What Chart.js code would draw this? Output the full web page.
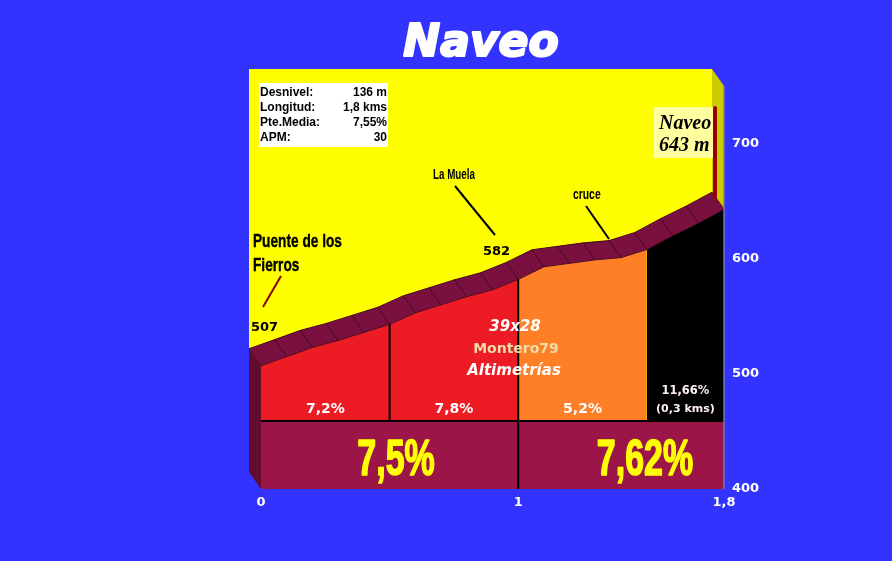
<!DOCTYPE html>
<html>
<head>
<meta charset="utf-8">
<script src="https://cdn.jsdelivr.net/npm/chart.js@4/dist/chart.umd.min.js"></script>
<style>
  body { margin: 0; background: #3333FF; }
  canvas { display: block; }
</style>
</head>
<body>
<canvas id="perfil" width="892" height="561"></canvas>
<script>
/* -------------------- DATOS -------------------- */
const kms = [0, 0.1, 0.2, 0.3, 0.4, 0.5, 0.6, 0.7, 0.8, 0.9, 1.0, 1.1, 1.2, 1.3, 1.4, 1.5, 1.6, 1.7, 1.8];
const altitudes = [507, 515, 523, 529, 536, 543, 553, 560, 567, 573, 582, 593, 596, 599, 601, 608, 620, 631, 643];

// tramos: indice inicio, indice fin, color, texto
const tramosIni = [0, 5, 10, 15];
const tramosFin = [5, 10, 15, 18];
const tramosColor = ["#ED1C24", "#ED1C24", "#FF7F27", "#000000"];
const tramosTexto = ["7,2%", "7,8%", "5,2%", "11,66%"];

// bloques de la base
const bloquesKm = [0.525, 1.493];
const bloquesTexto = ["7,5%", "7,62%"];

const yTicks = [400, 500, 600, 700];
const xTicks = [0, 1, 1.8];
const altBase = 459;

const infoEtiquetas = ["Desnivel:", "Longitud:", "Pte.Media:", "APM:"];
const infoValores = ["136 m", "1,8 kms", "7,55%", "30"];

/* -------------------- DIBUJO -------------------- */
const DX = -12, DY = -17;

function txt(ctx, s, x, y, font, color, align, sx, grosor) {
    ctx.save();
    ctx.font = font;
    ctx.fillStyle = color;
    ctx.textAlign = align || "left";
    ctx.textBaseline = "alphabetic";
    ctx.translate(x, y);
    ctx.scale(sx || 1, 1);
    ctx.fillText(s, 0, 0);
    if (grosor) {
        ctx.strokeStyle = color;
        ctx.lineWidth = grosor;
        ctx.lineJoin = "round";
        ctx.strokeText(s, 0, 0);
    }
    ctx.restore();
}

function linea(ctx, x1, y1, x2, y2, color, w) {
    ctx.save();
    ctx.strokeStyle = color;
    ctx.lineWidth = w;
    ctx.beginPath();
    ctx.moveTo(x1, y1);
    ctx.lineTo(x2, y2);
    ctx.stroke();
    ctx.restore();
}

function poligono(ctx, pts, fill, stroke) {
    ctx.beginPath();
    pts.forEach((p, i) => i ? ctx.lineTo(p[0], p[1]) : ctx.moveTo(p[0], p[1]));
    ctx.closePath();
    ctx.fillStyle = fill;
    ctx.fill();
    if (stroke) { ctx.strokeStyle = stroke; ctx.lineWidth = 1; ctx.stroke(); }
}

const fondo3d = {
    id: "fondo3d",
    beforeDraw(chart) {
        const { ctx, chartArea: a } = chart;
        ctx.save();
        ctx.fillStyle = "#3333FF";
        ctx.fillRect(0, 0, chart.width, chart.height);
        // pared del fondo
        ctx.fillStyle = "#FFFF00";
        ctx.fillRect(a.left + DX, a.top + DY, a.right - a.left, a.bottom - a.top);
        // pared lateral derecha
        poligono(ctx, [[a.right + DX, a.top + DY], [a.right, a.top], [a.right, a.bottom], [a.right + DX, a.bottom + DY]], "#CCCC00");
        ctx.restore();
    },
    afterDatasetsDraw(chart) {
        const { ctx, chartArea: a, scales: { x, y } } = chart;
        const px = k => x.getPixelForValue(k);
        const py = v => y.getPixelForValue(v);
        ctx.save();

        // cara izquierda
        const x0 = px(0), y0 = py(altitudes[0]);
        poligono(ctx, [[x0 + DX, y0 + DY], [x0, y0], [x0, a.bottom], [x0 + DX, a.bottom + DY]], "#640C30");

        // banda superior del perfil
        for (let i = 0; i < kms.length - 1; i++) {
            const x1 = px(kms[i]), y1 = py(altitudes[i]);
            const x2 = px(kms[i + 1]), y2 = py(altitudes[i + 1]);
            poligono(ctx, [[x1, y1], [x2, y2], [x2 + DX, y2 + DY], [x1 + DX, y1 + DY]], "#7A1040", "#4A0826");
        }

        // separadores
        const yb = py(altBase);
        linea(ctx, px(0), yb, px(1.8), yb, "#000", 2);
        linea(ctx, px(0.5), py(altitudes[5]), px(0.5), yb, "#000", 2);
        linea(ctx, px(1), py(altitudes[10]), px(1), a.bottom, "#000", 2);
        linea(ctx, a.right, a.top, a.right, a.bottom, "#7878A8", 1.5);

        // textos de los tramos
        const fTramo = "bold 14px 'DejaVu Sans'";
        for (let i = 0; i < 3; i++) {
            const cx = (px(kms[tramosIni[i]]) + px(kms[tramosFin[i]])) / 2;
            txt(ctx, tramosTexto[i], cx, 413, fTramo, "#FFFFFF", "center");
        }
        const cxN = (px(kms[tramosIni[3]]) + px(kms[tramosFin[3]])) / 2;
        txt(ctx, tramosTexto[3], cxN, 394, "bold 11.5px 'DejaVu Sans'", "#FFF0F8", "center");
        txt(ctx, "(0,3 kms)", cxN, 412, "bold 11px 'DejaVu Sans'", "#FFF0F8", "center");

        // textos de la base
        bloquesTexto.forEach((t, i) => {
            txt(ctx, t, px(bloquesKm[i]), 475, "bold 50px 'Liberation Sans'", "#FFFF00", "center", 0.68, 1.6);
        });

        // marca de la cima
        ctx.lineCap = "round";
        linea(ctx, 715, 108, 715, 197, "#990000", 4);
        ctx.lineCap = "butt";
        ctx.fillStyle = "#FFFFA0";
        ctx.fillRect(654, 107, 59, 51);
        txt(ctx, "Naveo", 659, 129, "bold italic 20px 'Liberation Serif'", "#000");
        txt(ctx, "643 m", 659, 151, "bold italic 20px 'Liberation Serif'", "#000");

        // puntos de paso
        const fCond = "bold 19px 'Liberation Sans'";
        txt(ctx, "Puente de los", 253, 247, fCond, "#000", "left", 0.72, 0.4);
        txt(ctx, "Fierros", 253, 271, fCond, "#000", "left", 0.72, 0.4);
        linea(ctx, 281, 276, 263, 307, "#8B0000", 2);
        txt(ctx, "507", 251, 331, "bold 13px 'DejaVu Sans'", "#000");

        txt(ctx, "La Muela", 433, 179, "bold 14px 'Liberation Sans'", "#000", "left", 0.7);
        linea(ctx, 455, 186, 495, 235, "#000", 2);
        txt(ctx, "582", 483, 255, "bold 13px 'DejaVu Sans'", "#000");

        txt(ctx, "cruce", 573, 199, "bold 14px 'Liberation Sans'", "#000", "left", 0.74);
        linea(ctx, 586, 206, 609, 239, "#000", 2);

        // marca de agua
        txt(ctx, "39x28", 515, 331, "bold italic 15px 'DejaVu Sans'", "#FFFFFF", "center");
        txt(ctx, "Montero79", 516, 353, "bold 14px 'DejaVu Sans'", "#F0DCA8", "center");
        txt(ctx, "Altimetrías", 514, 375, "bold italic 15px 'DejaVu Sans'", "#FFFFFF", "center");

        // cuadro de datos
        ctx.fillStyle = "#FFFFFF";
        ctx.fillRect(259, 83, 129, 64);
        infoEtiquetas.forEach((e, i) => {
            const by = 96 + i * 15;
            txt(ctx, e, 260, by, "bold 12px 'Liberation Sans'", "#000");
            txt(ctx, infoValores[i], 387, by, "bold 12px 'Liberation Sans'", "#000", "right");
        });

        // titulo
        txt(ctx, "Naveo", 481, 56, "bold italic 44px 'DejaVu Sans'", "#FFFFFF", "center", 1, 2.2);
        ctx.restore();
    }
};

function puntos(ini, fin) {
    return kms.slice(ini, fin + 1).map((k, i) => ({ x: k, y: altitudes[ini + i] }));
}

const datasets = tramosIni.map((ini, i) => ({
    data: puntos(ini, tramosFin[i]),
    backgroundColor: tramosColor[i],
    borderWidth: 0,
    pointRadius: 0,
    tension: 0,
    fill: { value: altBase }
}));

datasets.push({
    data: [{ x: 0, y: altBase }, { x: 1.8, y: altBase }],
    backgroundColor: "#9C1548",
    borderWidth: 0,
    pointRadius: 0,
    fill: "origin"
});

new Chart(document.getElementById("perfil"), {
    type: "line",
    data: { datasets },
    options: {
        responsive: false,
        animation: false,
        layout: { padding: { left: 261, top: 86 } },
        plugins: {
            legend: { display: false },
            title: { display: false },
            tooltip: { enabled: false }
        },
        scales: {
            x: {
                type: "linear",
                min: 0,
                max: 1.8,
                afterBuildTicks: s => { s.ticks = xTicks.map(v => ({ value: v })); },
                afterFit: s => { s.height = 72; },
                grid: { display: false, drawTicks: false },
                border: { display: false },
                ticks: {
                    color: "#FFFFFF",
                    padding: 6,
                    autoSkip: false,
                    maxRotation: 0,
                    font: { family: "'DejaVu Sans'", size: 13, weight: "bold" },
                    callback: v => String(v).replace(".", ",")
                }
            },
            y: {
                position: "right",
                min: 400,
                max: 750,
                afterBuildTicks: s => { s.ticks = yTicks.map(v => ({ value: v })); },
                afterFit: s => { s.width = 168; },
                grid: { display: false, drawTicks: false },
                border: { display: false },
                ticks: {
                    color: "#FFFFFF",
                    padding: 8,
                    font: { family: "'DejaVu Sans'", size: 13, weight: "bold" }
                }
            }
        }
    },
    plugins: [fondo3d]
});
</script>
</body>
</html>
